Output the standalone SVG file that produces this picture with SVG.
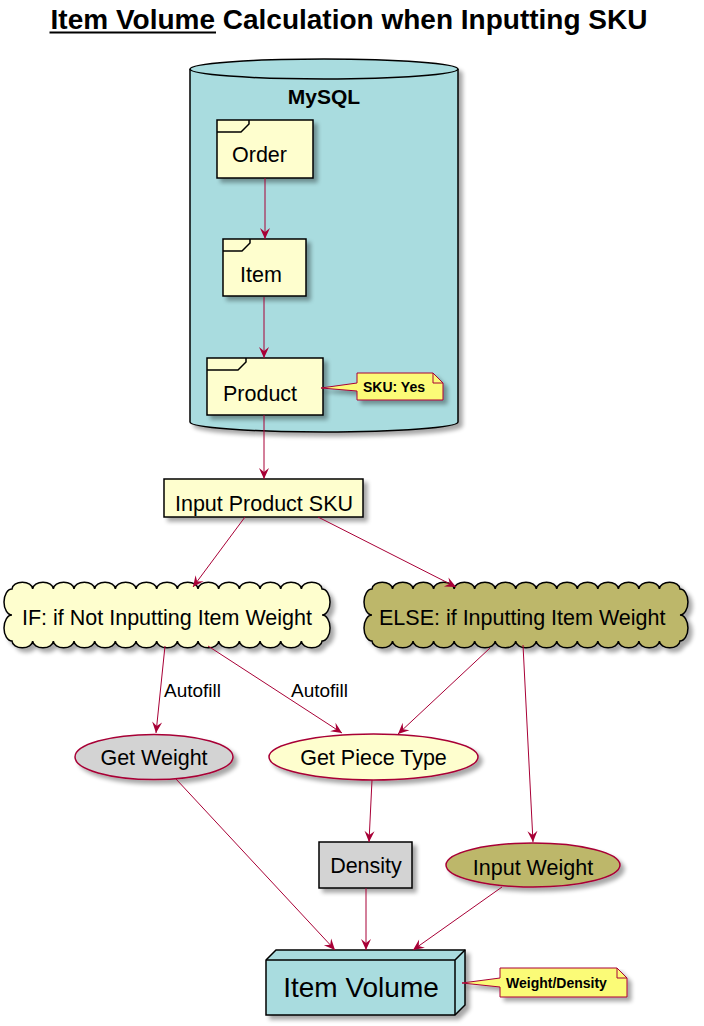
<svg xmlns="http://www.w3.org/2000/svg" width="704" height="1026" viewBox="0 0 704 1026">
<style>
text{font-family:"Liberation Sans",Arial,sans-serif;fill:#000}
.t{font-size:21.5px}
.b{font-weight:bold}
.n{font-size:14px;font-weight:bold}
.lbl{font-size:19px}
.e{stroke:#A80036;stroke-width:1;fill:none;marker-end:url(#ah)}
.frm{fill:#FEFECE;stroke:#000;stroke-width:1.5}
.uc{stroke:#A80036;stroke-width:1.5}
.note{fill:#FBFB77;stroke:#A80036;stroke-width:1}
</style>
<defs>
<filter id="sh" x="-10%" y="-10%" width="130%" height="150%">
<feGaussianBlur in="SourceAlpha" stdDeviation="2"/>
<feOffset dx="4" dy="4" result="o"/>
<feComponentTransfer><feFuncA type="linear" slope="0.35"/></feComponentTransfer>
<feMerge><feMergeNode/><feMergeNode in="SourceGraphic"/></feMerge>
</filter>
<marker id="ah" viewBox="-12 -6 13 12" refX="0" refY="0" markerWidth="13" markerHeight="12" orient="auto" markerUnits="userSpaceOnUse">
<path d="M0,0 L-11,-5 L-7,0 L-11,5 Z" fill="#A80036"/>
</marker>
</defs>
<rect width="704" height="1026" fill="#fff"/>

<g id="title">
<text x="349" y="29" text-anchor="middle" class="b" font-size="28">Item Volume Calculation when Inputting SKU</text>
<line x1="49.5" y1="32.5" x2="216" y2="32.5" stroke="#000" stroke-width="2"/>
</g>

<g id="mysql">
<path d="M190,69 A134,10 0 0 1 458,69 L458,422 A134,10 0 0 1 190,422 Z" fill="#A9DCDF" stroke="#000" stroke-width="1.5" filter="url(#sh)"/>
<path d="M190,69 A134,10 0 0 0 458,69" fill="none" stroke="#000" stroke-width="1.5"/>
<text x="324" y="104" text-anchor="middle" class="b" font-size="21">MySQL</text>
</g>

<g id="order">
<rect x="217" y="120" width="96" height="58" class="frm" filter="url(#sh)"/>
<path d="M217,132 L241,132 L249,124 L249,120" fill="none" stroke="#000" stroke-width="1.5"/>
<text x="232" y="162" class="t">Order</text>
</g>

<g id="item">
<rect x="223" y="239" width="83" height="57" class="frm" filter="url(#sh)"/>
<path d="M223,251 L242,251 L250,243 L250,239" fill="none" stroke="#000" stroke-width="1.5"/>
<text x="240" y="282" class="t">Item</text>
</g>

<g id="product">
<rect x="207" y="358" width="116" height="57" class="frm" filter="url(#sh)"/>
<path d="M207,370 L238,370 L246,362 L246,358" fill="none" stroke="#000" stroke-width="1.5"/>
<text x="223" y="401" class="t">Product</text>
</g>

<g id="note-sku">
<path d="M357,373 L433,373 L443,383 L443,400 L357,400 L357,391 L321,388 L357,383 Z" class="note" filter="url(#sh)"/>
<path d="M433,373 L433,383 L443,383" fill="none" stroke="#A80036" stroke-width="1"/>
<text x="363" y="392" class="n">SKU: Yes</text>
</g>

<g id="sku">
<rect x="164" y="479" width="199" height="38" fill="#FEFECE" stroke="#000" stroke-width="1.5" filter="url(#sh)"/>
<text x="264" y="511" text-anchor="middle" class="t">Input Product SKU</text>
</g>

<g id="if-cloud">
<path d="M12,589 a10.34,7 0 0 1 20.67,0 a10.34,7 0 0 1 20.67,0 a10.34,7 0 0 1 20.67,0 a10.34,7 0 0 1 20.67,0 a10.34,7 0 0 1 20.67,0 a10.34,7 0 0 1 20.67,0 a10.34,7 0 0 1 20.67,0 a10.34,7 0 0 1 20.67,0 a10.34,7 0 0 1 20.67,0 a10.34,7 0 0 1 20.67,0 a10.34,7 0 0 1 20.67,0 a10.34,7 0 0 1 20.67,0 a10.34,7 0 0 1 20.67,0 a10.34,7 0 0 1 20.67,0 a10.34,7 0 0 1 20.67,0 a8,13 0 0 1 0,26 a8,13 0 0 1 0,26 a10.34,7 0 0 1 -20.67,0 a10.34,7 0 0 1 -20.67,0 a10.34,7 0 0 1 -20.67,0 a10.34,7 0 0 1 -20.67,0 a10.34,7 0 0 1 -20.67,0 a10.34,7 0 0 1 -20.67,0 a10.34,7 0 0 1 -20.67,0 a10.34,7 0 0 1 -20.67,0 a10.34,7 0 0 1 -20.67,0 a10.34,7 0 0 1 -20.67,0 a10.34,7 0 0 1 -20.67,0 a10.34,7 0 0 1 -20.67,0 a10.34,7 0 0 1 -20.67,0 a10.34,7 0 0 1 -20.67,0 a10.34,7 0 0 1 -20.67,0 a8,13 0 0 1 0,-26 a8,13 0 0 1 0,-26 Z" fill="#FEFECE" stroke="#000" stroke-width="1.5" filter="url(#sh)"/>
<text x="22" y="625" class="t">IF: if Not Inputting Item Weight</text>
</g>

<g id="else-cloud">
<path d="M372,589 a10.27,7 0 0 1 20.53,0 a10.27,7 0 0 1 20.53,0 a10.27,7 0 0 1 20.53,0 a10.27,7 0 0 1 20.53,0 a10.27,7 0 0 1 20.53,0 a10.27,7 0 0 1 20.53,0 a10.27,7 0 0 1 20.53,0 a10.27,7 0 0 1 20.53,0 a10.27,7 0 0 1 20.53,0 a10.27,7 0 0 1 20.53,0 a10.27,7 0 0 1 20.53,0 a10.27,7 0 0 1 20.53,0 a10.27,7 0 0 1 20.53,0 a10.27,7 0 0 1 20.53,0 a10.27,7 0 0 1 20.53,0 a8,13 0 0 1 0,26 a8,13 0 0 1 0,26 a10.27,7 0 0 1 -20.53,0 a10.27,7 0 0 1 -20.53,0 a10.27,7 0 0 1 -20.53,0 a10.27,7 0 0 1 -20.53,0 a10.27,7 0 0 1 -20.53,0 a10.27,7 0 0 1 -20.53,0 a10.27,7 0 0 1 -20.53,0 a10.27,7 0 0 1 -20.53,0 a10.27,7 0 0 1 -20.53,0 a10.27,7 0 0 1 -20.53,0 a10.27,7 0 0 1 -20.53,0 a10.27,7 0 0 1 -20.53,0 a10.27,7 0 0 1 -20.53,0 a10.27,7 0 0 1 -20.53,0 a10.27,7 0 0 1 -20.53,0 a8,13 0 0 1 0,-26 a8,13 0 0 1 0,-26 Z" fill="#BDB76B" stroke="#000" stroke-width="1.5" filter="url(#sh)"/>
<text x="379" y="625" class="t">ELSE: if Inputting Item Weight</text>
</g>

<g id="get-weight">
<ellipse cx="154" cy="757" rx="79" ry="22.5" fill="#D3D3D3" class="uc" filter="url(#sh)"/>
<text x="154" y="765" text-anchor="middle" class="t">Get Weight</text>
</g>

<g id="get-piece-type">
<ellipse cx="373.5" cy="757" rx="104.5" ry="23" fill="#FEFECE" class="uc" filter="url(#sh)"/>
<text x="373.5" y="765" text-anchor="middle" class="t">Get Piece Type</text>
</g>

<g id="density">
<rect x="319" y="842" width="93" height="46" fill="#D3D3D3" stroke="#000" stroke-width="1.5" filter="url(#sh)"/>
<text x="366" y="873" text-anchor="middle" class="t">Density</text>
</g>

<g id="input-weight">
<ellipse cx="533" cy="865" rx="87" ry="22" fill="#BDB76B" class="uc" filter="url(#sh)"/>
<text x="533" y="875" text-anchor="middle" class="t">Input Weight</text>
</g>

<g id="item-volume">
<path d="M266,960 L276,950 L465,950 L465,1005 L455,1015 L266,1015 Z" fill="#A9DCDF" stroke="#000" stroke-width="1.5" filter="url(#sh)"/>
<path d="M266,960 L455,960 L465,950 M455,960 L455,1015" fill="none" stroke="#000" stroke-width="1.5"/>
<text x="361" y="997" text-anchor="middle" font-size="28">Item Volume</text>
</g>

<g id="note-wd">
<path d="M500,968 L617,968 L627,978 L627,997 L500,997 L500,987 L462,983 L500,978 Z" class="note" filter="url(#sh)"/>
<path d="M617,968 L617,978 L627,978" fill="none" stroke="#A80036" stroke-width="1"/>
<text x="506" y="988" class="n">Weight/Density</text>
</g>

<g id="connectors">
<path class="e" d="M265,178 L265,239"/>
<path class="e" d="M264,297 L264,358"/>
<path class="e" d="M264,415 L264,479"/>
<path class="e" d="M245,517 L193,587"/>
<path class="e" d="M318,517 L456,587"/>
<path class="e" d="M165,646 L156,733"/>
<path class="e" d="M208,646 L342,733"/>
<path class="e" d="M490,648 L398,734"/>
<path class="e" d="M523,645 L533,842"/>
<path class="e" d="M372,780 L369,842"/>
<path class="e" d="M176,779 L335,950"/>
<path class="e" d="M366,888 L366,950"/>
<path class="e" d="M502,887 L413,950"/>
<text x="164" y="697" class="lbl">Autofill</text>
<text x="291" y="697" class="lbl">Autofill</text>
</g>
</svg>
